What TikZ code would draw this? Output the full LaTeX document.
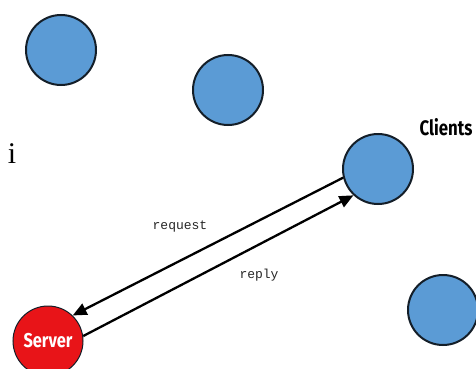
\documentclass[tikz,border=0pt]{standalone}
\usepackage{fontspec}
\setmainfont{Liberation Serif}
\newfontfamily\labelsans{Fira Sans}
\newfontfamily\monolabel{Liberation Mono}
\usetikzlibrary{arrows.meta}
\definecolor{clientblue}{RGB}{91,155,213}
\definecolor{serverred}{RGB}{232,20,24}
\definecolor{rimdark}{RGB}{20,30,40}
\begin{document}
\begin{tikzpicture}[x=1pt,y=-1pt,
  client/.style={circle,draw=rimdark,line width=2pt,fill=clientblue,minimum size=70pt,inner sep=0pt},
  server/.style={circle,draw=rimdark,line width=1pt,fill=serverred,minimum size=70pt,inner sep=0pt,
    text=white,font=\labelsans\bfseries\fontsize{20}{20}\selectfont},
  msg/.style={line width=2.3pt,-{Triangle[length=14pt,width=12pt]}},
  msglabel/.style={font=\monolabel\fontsize{13}{13}\selectfont,text=black!85}]
  \useasboundingbox (0,0) rectangle (476,369);
  % client machines
  \node[client] (c1) at (61,50) {};
  \node[client] (c2) at (228,90) {};
  \node[client] (c3) at (378,169) {};
  \node[client] (c4) at (443,310) {};
  % server
  \node[server] (srv) at (48,341) {\scalebox{0.82}[1]{Server}};
  % labels
  \node[font=\fontsize{30}{30}\selectfont] (ii) at (12,154) {i};
  \node[font=\labelsans\bfseries\fontsize{21}{21}\selectfont] (cl) at (446,127) {\scalebox{0.8}[1]{Clients}};
  % messages between server and client
  \draw[msg] (c3.194) -- (srv.46);
  \draw[msg] (srv.8) -- (c3.227);
  \node[msglabel] (rq) at (180,227) {request};
  \node[msglabel] (rp) at (259,275) {reply};
\end{tikzpicture}
\end{document}
